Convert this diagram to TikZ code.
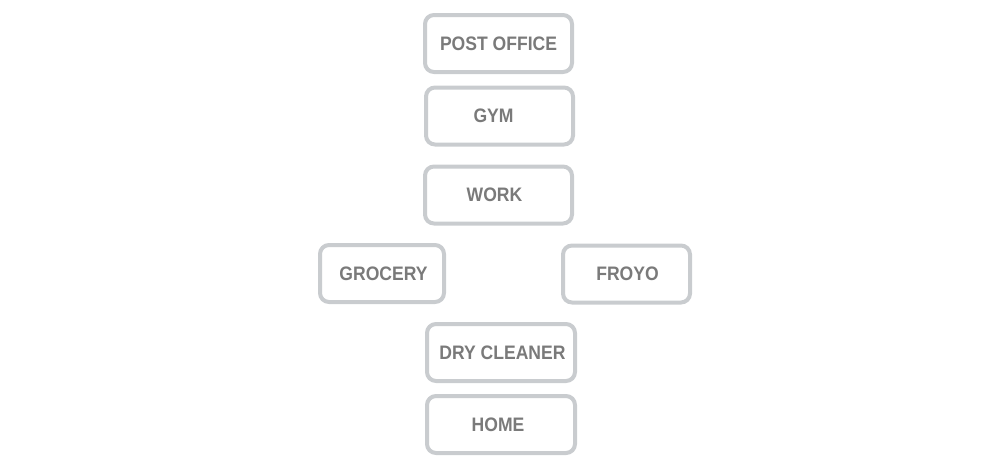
\documentclass[tikz,border=0pt]{standalone}
\usepackage{fontspec}
\setmainfont{Liberation Sans}[FakeStretch=0.9]
\definecolor{boxgray}{HTML}{C9CCCF}
\definecolor{txtgray}{HTML}{7A7A7A}
\begin{document}
\begin{tikzpicture}[x=1pt,y=-1pt,
  place/.style={draw=boxgray, line width=4pt, rounded corners=9pt, fill=white,
    text=txtgray, font=\fontsize{19.5}{20}\selectfont\bfseries,
    inner sep=0pt, minimum height=57pt}]
\useasboundingbox (0,0) rectangle (1000,464);
\node[place, minimum width=147pt] (post) at (498.5,43.5) {POST OFFICE};
\node[place, minimum width=147pt] (gym) at (499.5,116) {GYM\kern12pt};
\node[place, minimum width=147pt] (work) at (498.5,195) {WORK\kern8pt};
\node[place, minimum width=124pt] (grocery) at (382,273.5) {GROCERY\kern-3pt};
\node[place, minimum width=127pt] (froyo) at (626.5,274) {FROYO\kern-2pt};
\node[place, minimum width=148pt] (dry) at (501,352.5) {DRY CLEANER\kern-3pt};
\node[place, minimum width=148pt] (home) at (501,424.5) {HOME\kern6pt};
\end{tikzpicture}
\end{document}
